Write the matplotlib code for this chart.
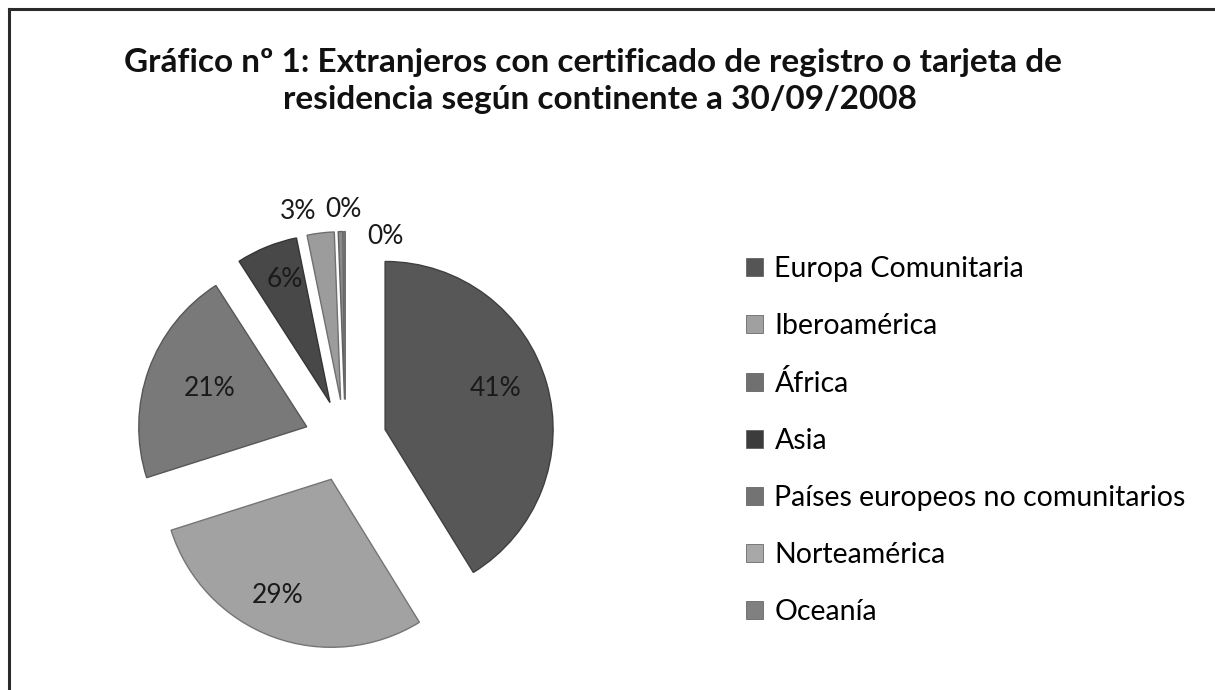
import numpy as np
import matplotlib
matplotlib.use("Agg")
import matplotlib.pyplot as plt
import matplotlib.colors as mcolors
from matplotlib.patches import Patch
from matplotlib.lines import Line2D

# ---- data ----
categories = ["Europa Comunitaria", "Iberoamérica", "África", "Asia",
              "Países europeos no comunitarios", "Norteamérica", "Oceanía"]
values = [41.2, 28.9, 20.8, 5.9, 2.6, 0.45, 0.15]
slice_colors = ["#575757", "#a2a2a2", "#797979", "#484848", "#9c9c9c", "#8a8a8a", "#9a9a9a"]
legend_colors = ["#555555", "#a0a0a0", "#707070", "#3c3c3c", "#737373", "#a8a8a8", "#808080"]
title_lines = ["Gráfico nº 1: Extranjeros con certificado de registro o tarjeta de",
               "residencia según continente a 30/09/2008"]

plt.rcParams['font.family'] = ['Lato', 'DejaVu Sans']

W, H = 1215, 690
fig = plt.figure(figsize=(W / 100, H / 100), dpi=100)
fig.patch.set_facecolor("white")

# border (left and top)
fig.add_artist(Line2D([9 / W, 9 / W], [0, 1 - 9 / H], color="#2a2a2a", lw=2.2,
                      transform=fig.transFigure))
fig.add_artist(Line2D([9 / W, 1], [1 - 9 / H, 1 - 9 / H], color="#2a2a2a", lw=2.2,
                      transform=fig.transFigure))

# pie axes: centre at (345, 441) px, unit radius = 168 px
cx, cy, R = 345.5, 440.7, 168.0
span = 1.6
ax = fig.add_axes([(cx - span * R) / W, (H - cy - span * R) / H,
                   2 * span * R / W, 2 * span * R / H])

explode = [0.245] * len(values)
wedges, texts, autotexts = ax.pie(
    values, colors=slice_colors, explode=explode, startangle=90, counterclock=False,
    radius=1.0, autopct=lambda p: f"{p:.0f}%", pctdistance=0.72,
    wedgeprops=dict(linewidth=1.0),
    textprops=dict(fontsize=19, color="#1a1a1a"))
ax.set_xlim(-span, span)
ax.set_ylim(-span, span)
ax.set_aspect("auto")
ax.axis("off")

for w, c in zip(wedges, slice_colors):
    rgb = np.array(mcolors.to_rgb(c)) * 0.72
    w.set_edgecolor(rgb)

# label placement (radial factor, angular nudge) relative to each exploded wedge
label_adj = [(0.70, 4.5), (0.76, -4.5), (0.62, -2), (0.78, -2),
             (1.15, 6), (1.13, -1), (1.0, -14)]
for w, t, (rf, dang) in zip(wedges, autotexts, label_adj):
    th = np.deg2rad((w.theta1 + w.theta2) / 2 + dang)
    ox, oy = w.center
    t.set_position((ox + rf * np.cos(th), oy + rf * np.sin(th)))

fig.text(593 / W, 1 - 72 / H, title_lines[0], ha="center", va="baseline", fontsize=24,
         fontweight="bold", color="#111111")
fig.text(600 / W, 1 - 109 / H, title_lines[1], ha="center", va="baseline", fontsize=24,
         fontweight="bold", color="#111111")

handles = [Patch(facecolor=c, edgecolor="#555555", linewidth=0.5) for c in legend_colors]
fig.legend(handles, categories, loc="upper left", bbox_to_anchor=(746 / W, 1 - 256 / H),
           frameon=False, fontsize=20.5, handlelength=0.6, handleheight=0.6,
           handletextpad=0.4, labelspacing=1.09, borderpad=0, borderaxespad=0)

fig.savefig("out.png", dpi=100, facecolor="white")
